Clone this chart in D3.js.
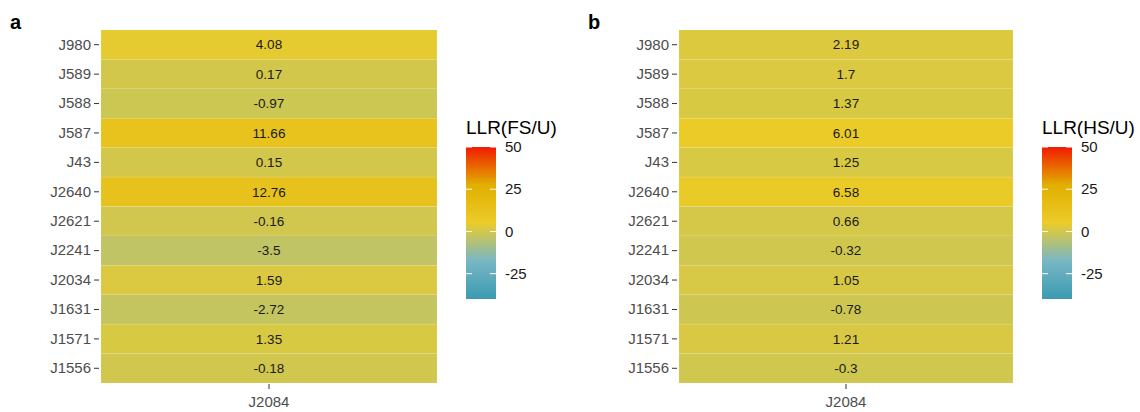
<!DOCTYPE html>
<html>
<head>
<meta charset="utf-8">
<script src="https://cdn.jsdelivr.net/npm/d3@7"></script>
<style>
  body { margin: 0; background: #fff; }
  text { font-family: "Liberation Sans", Arial, sans-serif; }
</style>
</head>
<body>
<div id="chart"></div>
<script>
// data
const rows = ["J980", "J589", "J588", "J587", "J43", "J2640", "J2621", "J2241", "J2034", "J1631", "J1571", "J1556"];
const cols = ["J2084"];
const llrFS = [4.08, 0.17, -0.97, 11.66, 0.15, 12.76, -0.16, -3.5, 1.59, -2.72, 1.35, -0.18];
const llrHS = [2.19, 1.7, 1.37, 6.01, 1.25, 6.58, 0.66, -0.32, 1.05, -0.78, 1.21, -0.3];
const legendTicks = [50, 25, 0, -25];

const width = 1140, height = 412;
const svg = d3.select("#chart").append("svg")
  .attr("width", width)
  .attr("height", height);

// Zissou1 gradient
const palette = ["#3B9AB2", "#78B7C5", "#EBCC2A", "#E1AF00", "#F21A00"];
const limits = [-40, 50];
const color = d3.scaleLinear()
  .domain(d3.range(palette.length).map(i => limits[0] + i * (limits[1] - limits[0]) / (palette.length - 1)))
  .range(palette)
  .interpolate(d3.interpolateRgb);

const panels = [
  {tag: "a", values: llrFS, title: "LLR(FS/U)", x0: 101, x1: 437, tagX: 10, legX: 466},
  {tag: "b", values: llrHS, title: "LLR(HS/U)", x0: 679, x1: 1013, tagX: 588, legX: 1042}
];

const plotTop = 30, plotBottom = 383;

panels.forEach(p => {
  const g = svg.append("g");

  const x = d3.scaleBand().domain(cols).range([p.x0, p.x1]);
  const y = d3.scaleBand().domain(rows).range([plotTop, plotBottom]);

  const cells = rows.map((r, i) => ({row: r, col: cols[0], value: p.values[i]}));

  g.selectAll("rect.tile")
    .data(cells)
    .enter()
    .append("rect")
    .attr("class", "tile")
    .attr("x", d => x(d.col))
    .attr("y", d => y(d.row))
    .attr("width", x.bandwidth())
    .attr("height", y.bandwidth())
    .attr("fill", d => color(d.value))
    .attr("stroke", "rgba(255,255,255,0.1)")
    .attr("stroke-width", 0.8);

  g.selectAll("text.val")
    .data(cells)
    .enter()
    .append("text")
    .attr("class", "val")
    .attr("x", d => x(d.col) + x.bandwidth() / 2)
    .attr("y", d => y(d.row) + y.bandwidth() / 2)
    .attr("dy", "0.35em")
    .attr("text-anchor", "middle")
    .attr("font-size", 13.5)
    .attr("fill", "#1a1a1a")
    .text(d => d.value);

  // axes
  const yAxis = d3.axisLeft(y).tickSize(5).tickPadding(3);
  const yg = g.append("g")
    .attr("transform", `translate(${p.x0 - 2},0)`)
    .call(yAxis);
  yg.select(".domain").remove();
  yg.selectAll(".tick line").attr("stroke", "#333").attr("stroke-width", 1);
  yg.selectAll(".tick text").attr("fill", "#4d4d4d").attr("font-size", 15)
    .style("font-family", "'Liberation Sans', Arial, sans-serif");

  const xAxis = d3.axisBottom(x).tickSize(5).tickPadding(7);
  const xg = g.append("g")
    .attr("transform", `translate(0,${plotBottom + 1})`)
    .call(xAxis);
  xg.select(".domain").remove();
  xg.selectAll(".tick line").attr("stroke", "#333").attr("stroke-width", 1);
  xg.selectAll(".tick text").attr("fill", "#4d4d4d").attr("font-size", 15)
    .style("font-family", "'Liberation Sans', Arial, sans-serif");

  // panel tag
  g.append("text")
    .attr("x", p.tagX)
    .attr("y", 29)
    .attr("font-size", 20)
    .attr("font-weight", "bold")
    .attr("fill", "#000")
    .text(p.tag);

  // legend
  const legTop = 147, legBottom = 299, legW = 30;
  const ly = d3.scaleLinear().domain(limits).range([legBottom, legTop]);
  const gradId = "grad" + p.tag;
  const grad = svg.append("defs").append("linearGradient")
    .attr("id", gradId)
    .attr("x1", 0).attr("y1", 1).attr("x2", 0).attr("y2", 0);
  d3.range(0, 21).forEach(i => {
    const v = limits[0] + i * (limits[1] - limits[0]) / 20;
    grad.append("stop")
      .attr("offset", (i / 20 * 100) + "%")
      .attr("stop-color", color(v));
  });

  g.append("text")
    .attr("x", p.legX)
    .attr("y", 134)
    .attr("font-size", 19)
    .attr("fill", "#000")
    .text(p.title);

  g.append("rect")
    .attr("x", p.legX)
    .attr("y", legTop)
    .attr("width", legW)
    .attr("height", legBottom - legTop)
    .attr("fill", `url(#${gradId})`);

  legendTicks.forEach(t => {
    g.append("line")
      .attr("x1", p.legX).attr("x2", p.legX + 6)
      .attr("y1", ly(t)).attr("y2", ly(t))
      .attr("stroke", "#fff").attr("stroke-width", 1);
    g.append("line")
      .attr("x1", p.legX + legW - 6).attr("x2", p.legX + legW)
      .attr("y1", ly(t)).attr("y2", ly(t))
      .attr("stroke", "#fff").attr("stroke-width", 1);
    g.append("text")
      .attr("x", p.legX + legW + 9)
      .attr("y", ly(t))
      .attr("dy", "0.35em")
      .attr("font-size", 15)
      .attr("fill", "#1a1a1a")
      .text(t);
  });
});
</script>
</body>
</html>
